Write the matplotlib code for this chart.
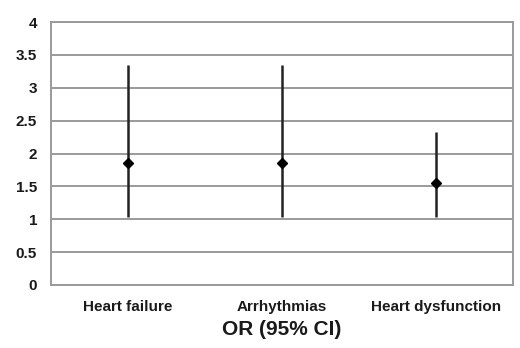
import numpy as np
import matplotlib.pyplot as plt

plt.rcParams['font.family'] = ['Liberation Sans', 'DejaVu Sans']

# 数据
categories = ['Heart failure', 'Arrhythmias', 'Heart dysfunction']
odds_ratio = [1.85, 1.85, 1.55]
ci_lower = [1.03, 1.03, 1.03]
ci_upper = [3.35, 3.35, 2.33]

x = np.arange(len(categories)) + 0.5
yerr = [np.subtract(odds_ratio, ci_lower), np.subtract(ci_upper, odds_ratio)]

fig = plt.figure(figsize=(5.2, 3.48), dpi=100)
ax = fig.add_axes([51 / 520, 63 / 348, 462 / 520, 263 / 348])

ax.errorbar(x, odds_ratio, yerr=yerr, fmt='D', color='black', ecolor='#222222',
            elinewidth=1.8, capsize=0, markersize=5.5, zorder=3)

ax.set_xlim(0, 3)
ax.set_ylim(0, 4)
ax.set_yticks(np.arange(0, 4.01, 0.5))
ax.set_yticklabels(['0', '0.5', '1', '1.5', '2', '2.5', '3', '3.5', '4'])
ax.set_xticks(x)
ax.set_xticklabels(categories)
ax.yaxis.grid(True, color='#9a9a9a', linewidth=1.4)
ax.set_axisbelow(True)
ax.tick_params(length=0, labelsize=11)
ax.tick_params(axis='y', pad=10)
ax.tick_params(axis='x', pad=11)
for lab in ax.get_xticklabels() + ax.get_yticklabels():
    lab.set_fontweight('bold')
    lab.set_color('#1a1a1a')
for s in ax.spines.values():
    s.set_color('#9a9a9a')
    s.set_linewidth(1.4)

ax.set_xlabel('OR (95% CI)', fontsize=15, fontweight='bold', color='#1a1a1a', labelpad=4)

fig.savefig('out.png', dpi=100)
